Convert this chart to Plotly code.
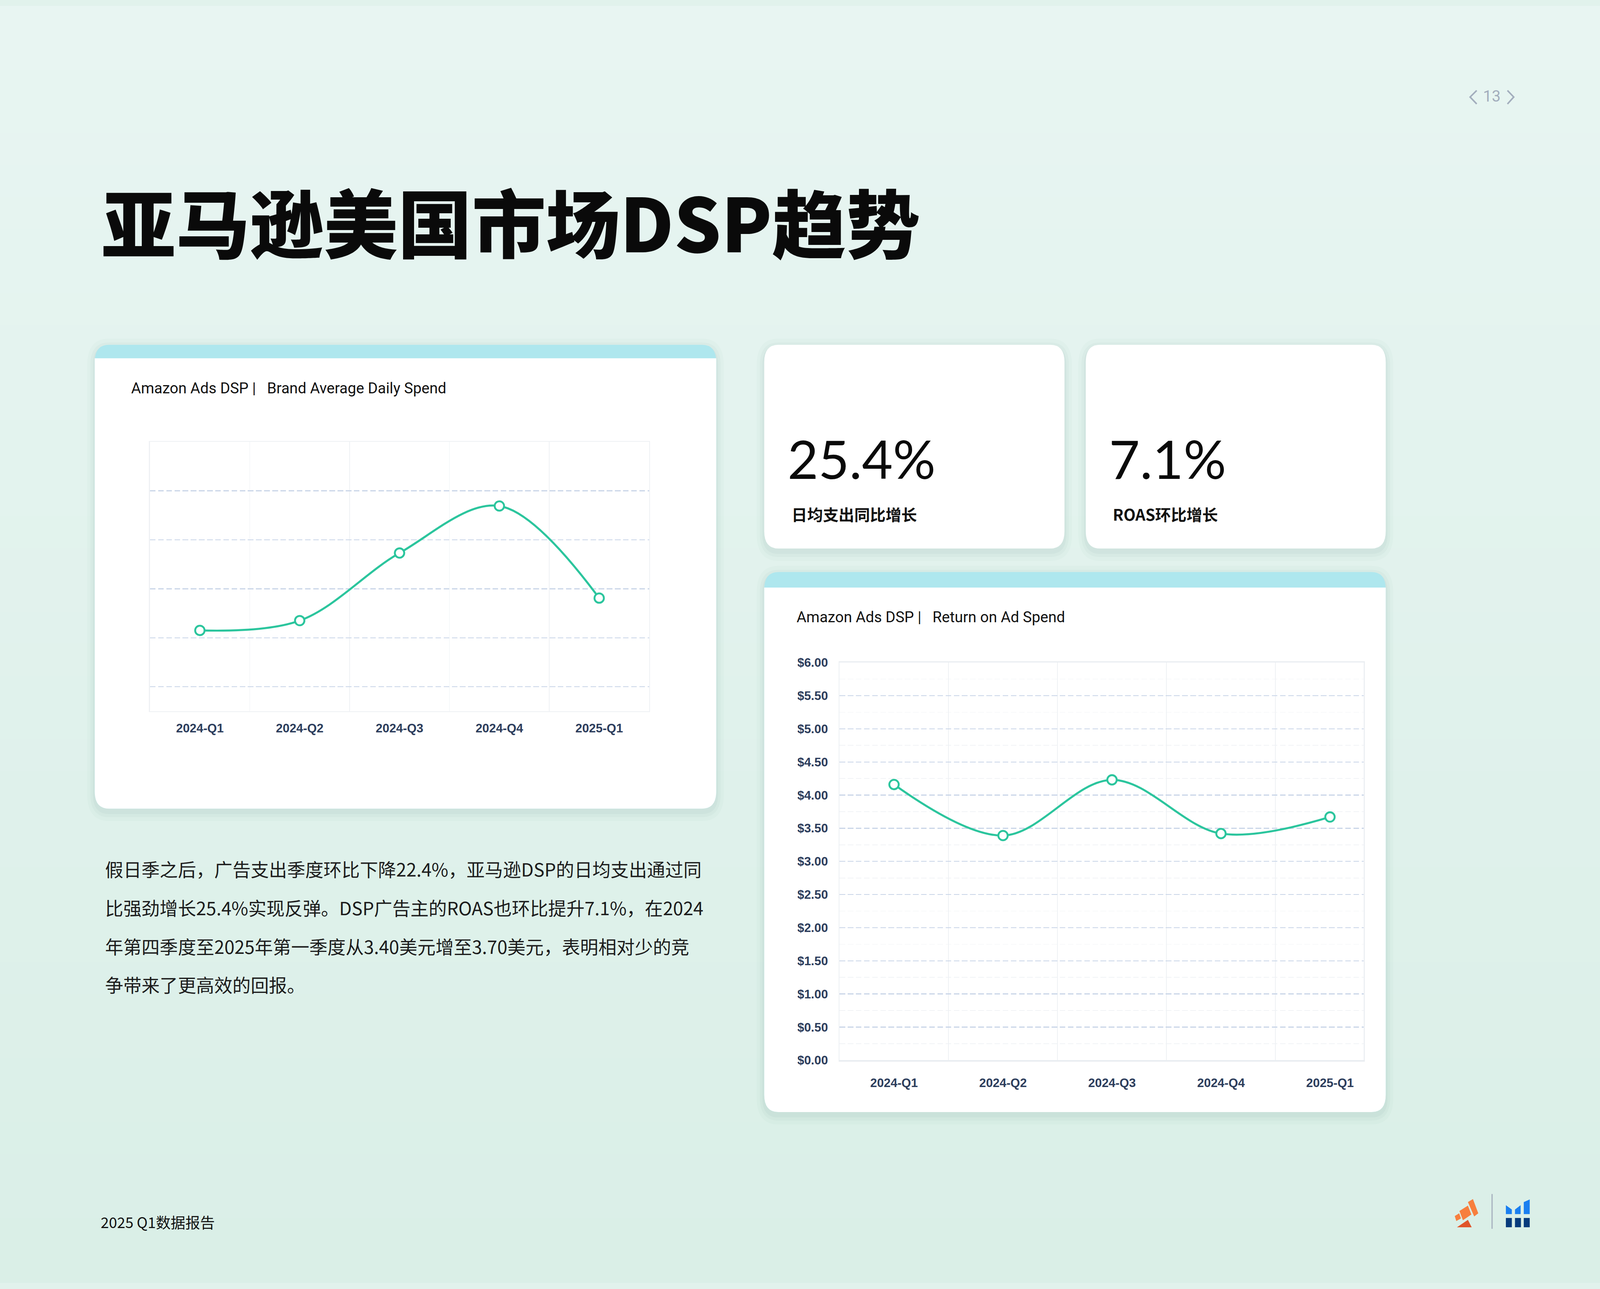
import plotly.graph_objects as go

W, H = 5100, 3300

# ---------------- data ----------------
quarters = ["2024-Q1", "2024-Q2", "2024-Q3", "2024-Q4", "2025-Q1"]
daily_spend_index = [2.15, 2.35, 3.73, 4.69, 2.81]      # unlabeled axis in the original
roas_values = [4.16, 3.39, 4.23, 3.42, 3.67]
roas_ticks = [0, 0.5, 1, 1.5, 2, 2.5, 3, 3.5, 4, 4.5, 5, 5.5, 6]
roas_tick_labels = ["$%.2f" % v for v in roas_ticks]
spend_grid = [1, 2, 3, 4, 5]

title_text = "亚马逊美国市场DSP趋势"
card1_title = "Amazon Ads DSP |\u00a0\u00a0 Brand Average Daily Spend"
card2_title = "Amazon Ads DSP |\u00a0\u00a0 Return on Ad Spend"
kpi_values = ["25.4%", "7.1%"]
kpi_labels = ["日均支出同比增长", "ROAS环比增长"]
paragraph_lines = [
    "假日季之后，广告支出季度环比下降22.4%，亚马逊DSP的日均支出通过同",
    "比强劲增长25.4%实现反弹。DSP广告主的ROAS也环比提升7.1%，在2024",
    "年第四季度至2025年第一季度从3.40美元增至3.70美元，表明相对少的竞",
    "争带来了更高效的回报。",
]
footer_text = "2025 Q1数据报告"
page_no = "13"

# ---------------- helpers ----------------
def fx(x):
    return x / W

def fy(y):
    return 1 - y / H

def pt(x, y):
    return f"{fx(x):.6f},{fy(y):.6f}"

def rrect_path(x0, y0, x1, y1, r, top=True, bottom=True):
    rt = r if top else 0
    rb = r if bottom else 0
    p = f"M {pt(x0 + rt, y0)} L {pt(x1 - rt, y0)} "
    if rt:
        p += f"Q {pt(x1, y0)} {pt(x1, y0 + rt)} "
    p += f"L {pt(x1, y1 - rb)} "
    if rb:
        p += f"Q {pt(x1, y1)} {pt(x1 - rb, y1)} "
    p += f"L {pt(x0 + rb, y1)} "
    if rb:
        p += f"Q {pt(x0, y1)} {pt(x0, y1 - rb)} "
    p += f"L {pt(x0, y0 + rt)} "
    if rt:
        p += f"Q {pt(x0, y0)} {pt(x0 + rt, y0)} "
    return p + "Z"

def poly_path(points):
    return "M " + " L ".join(pt(x, y) for x, y in points) + " Z"

shapes = []

def add_path(path, fill, line_color=None, line_width=0, opacity=1.0):
    shapes.append(dict(type="path", xref="paper", yref="paper", path=path,
                       fillcolor=fill, opacity=opacity, layer="below",
                       line=dict(color=line_color or fill, width=line_width)))

def lerp(c0, c1, t):
    return "#%02x%02x%02x" % tuple(round(a + (b - a) * t) for a, b in zip(c0, c1))

# ---------------- background gradient ----------------
top_c = (0xE8, 0xF5, 0xF2)
bot_c = (0xDA, 0xEF, 0xE7)
n_bands = 40
for i in range(n_bands):
    y0 = H * i / n_bands - 2
    y1 = H * (i + 1) / n_bands + 2
    shapes.append(dict(type="rect", xref="paper", yref="paper",
                       x0=-0.01, x1=1.01, y0=fy(y1), y1=fy(y0), layer="below",
                       fillcolor=lerp(top_c, bot_c, i / (n_bands - 1)),
                       line=dict(width=0)))

# ---------------- cards ----------------
CYAN = "#aee7ee"

def card(x0, y0, x1, y1, r=45, band=None):
    for k, a in ((24, 0.025), (14, 0.03), (6, 0.04)):
        add_path(rrect_path(x0 - k, y0 - k + 8, x1 + k, y1 + k + 8, r + k),
                 "rgba(40,110,90,%.3f)" % a)
    if band:
        add_path(rrect_path(x0, y0, x1, y1, r), CYAN)
        add_path(rrect_path(x0, band, x1, y1, r, top=False), "#ffffff")
    else:
        add_path(rrect_path(x0, y0, x1, y1, r), "#ffffff")

card(302, 875, 2283, 2075, band=910)
card(2436, 1463, 4417, 2860, band=1503)
card(2436, 875, 3393, 1402)
card(3461, 875, 4417, 1402)

# ---------------- page number chevrons ----------------
for pts in ([(4707, 217), (4686, 234), (4707, 252)], [(4805, 217), (4825, 234), (4805, 252)]):
    shapes.append(dict(type="path", xref="paper", yref="paper", layer="above",
                       path="M " + " L ".join(pt(x, y) for x, y in pts),
                       line=dict(color="#a3aebd", width=5)))

# ---------------- logos ----------------
add_path(poly_path([(4637, 3129), (4651, 3122), (4657, 3135), (4642, 3142)]), "#f77f3e")
add_path(poly_path([(4652, 3116), (4679, 3102), (4690, 3125), (4663, 3140)]), "#f77f3e")
add_path(poly_path([(4679, 3093), (4695, 3085), (4712, 3122), (4699, 3130)]), "#f77f3e")
add_path(poly_path([(4644, 3158), (4679, 3139), (4691, 3158)]), "#e0552a")
shapes.append(dict(type="line", xref="paper", yref="paper", layer="below",
                   x0=fx(4756), x1=fx(4756), y0=fy(3072), y1=fy(3162),
                   line=dict(color="#a9b5c1", width=4)))
add_path(poly_path([(4800, 3101), (4819, 3112), (4819, 3124), (4800, 3124)]), "#1a7ff0")
add_path(poly_path([(4829, 3112), (4847, 3101), (4847, 3124), (4829, 3124)]), "#1a7ff0")
add_path(poly_path([(4857, 3093), (4876, 3086), (4876, 3124), (4857, 3124)]), "#1a7ff0")
for x0 in (4800, 4829, 4857):
    add_path(poly_path([(x0, 3134), (x0 + 19, 3134), (x0 + 19, 3158), (x0, 3158)]), "#073b7c")

# ---------------- text ----------------
CJK = "Noto Sans CJK SC"
annotations = []

def text(x, y, s, size, color="#111111", family=CJK, weight="normal", xanchor="left"):
    annotations.append(dict(x=fx(x), y=fy(y), xref="paper", yref="paper", text=s,
                            showarrow=False, xanchor=xanchor, yanchor="middle",
                            font=dict(size=size, color=color, family=family, weight=weight)))

text(322, 552, title_text, 236, "#0a0a0a", weight=900)
text(4755, 232, page_no, 50, "#a3aebd", family="Roboto", xanchor="center")
text(416, 987, card1_title, 48, "#111111", family="Roboto")
text(2537, 1580, card2_title, 48, "#111111", family="Roboto")
text(2508, 1168, kpi_values[0], 170, "#0a0a0a", family="Lato")
text(3533, 1168, kpi_values[1], 170, "#0a0a0a", family="Lato")
text(2521, 1312, kpi_labels[0], 50, "#111111", weight="bold")
text(3545, 1312, kpi_labels[1], 50, "#111111", weight="bold")
for i, line in enumerate(paragraph_lines):
    text(333, 2230 + i * 100, line, 58, "#1c1c1c")
text(319, 3144, footer_text, 47, "#111111")

# ---------------- charts ----------------
GREEN = "#2bc59d"
TICK_FONT = dict(family="Liberation Sans", size=39, color="#2c3d5c", weight="bold")
GRID_DASH = "#c9d5e8"
FAINT = "#eef1f4"

fig = go.Figure()
fig.add_trace(go.Scatter(
    x=quarters, y=daily_spend_index, xaxis="x", yaxis="y",
    mode="lines+markers", line=dict(color=GREEN, width=6.5, shape="spline", smoothing=1.0),
    marker=dict(size=30, color="white", line=dict(color=GREEN, width=6)),
    hoverinfo="skip", showlegend=False))
fig.add_trace(go.Scatter(
    x=quarters, y=roas_values, xaxis="x2", yaxis="y2",
    mode="lines+markers", line=dict(color=GREEN, width=6.5, shape="spline", smoothing=1.0),
    marker=dict(size=30, color="white", line=dict(color=GREEN, width=6)),
    hoverinfo="skip", showlegend=False))

fig.update_layout(
    width=W, height=H, margin=dict(l=0, r=0, t=0, b=0),
    paper_bgcolor="#e1f2ec", plot_bgcolor="rgba(0,0,0,0)",
    shapes=shapes, annotations=annotations, showlegend=False,
    xaxis=dict(domain=[fx(478), fx(2069)], anchor="y", type="category",
               categoryorder="array", categoryarray=quarters,
               range=[-0.5, 4.5], tickson="boundaries", ticks="",
               showgrid=True, gridcolor=FAINT, gridwidth=2,
               showline=True, mirror=True, linecolor=FAINT, linewidth=3,
               tickfont=TICK_FONT, ticklabelstandoff=18, fixedrange=True),
    yaxis=dict(domain=[fy(1823), fy(1126)], anchor="x", range=[0.5, 6],
               tickmode="array", tickvals=spend_grid, showticklabels=False, ticks="",
               showgrid=True, gridcolor=GRID_DASH, gridwidth=3, griddash="18px,8px",
               zeroline=False, showline=True, mirror=True, linecolor=FAINT, linewidth=3,
               fixedrange=True),
    xaxis2=dict(domain=[fx(2676), fx(4347)], anchor="y2", type="category",
                categoryorder="array", categoryarray=quarters,
                range=[-0.5, 4.31], tickson="boundaries", ticks="",
                showgrid=True, gridcolor=FAINT, gridwidth=2,
                showline=True, mirror=True, linecolor="#e9edf1", linewidth=4,
                tickfont=TICK_FONT, ticklabelstandoff=34, fixedrange=True),
    yaxis2=dict(domain=[fy(2726), fy(1697)], anchor="x2", range=[0, 6],
                tickmode="array", tickvals=roas_ticks, ticktext=roas_tick_labels, ticks="",
                showgrid=True, gridcolor=GRID_DASH, gridwidth=3, griddash="18px,8px",
                minor=dict(tickmode="linear", tick0=0, dtick=0.25, showgrid=True,
                           gridcolor="#f1f3f6", gridwidth=2, ticks=""),
                zeroline=False, showline=True, mirror=True, linecolor="#eceff3", linewidth=3,
                tickfont=TICK_FONT, ticklabelstandoff=26, fixedrange=True),
)

# Fill the browser viewport: scale the 5100-wide slide to the viewport width and
# let the (paper-relative) layout take the viewport's full height.
fit_script = """
var W = %d;
var de = document.documentElement, bd = document.body;
de.style.margin = '0'; de.style.padding = '0'; de.style.overflow = 'hidden';
bd.style.margin = '0'; bd.style.padding = '0'; bd.style.overflow = 'hidden';
de.style.background = '#dbefe8'; bd.style.background = '#dbefe8';
var gd = document.getElementById('{plot_id}');
var vw = window.innerWidth, vh = window.innerHeight;
var s = vw / W;
var hf = vh / s;
var wrap = gd.parentElement;
wrap.style.position = 'absolute';
wrap.style.left = '0px';
wrap.style.top = '0px';
wrap.style.width = vw + 'px';
wrap.style.height = vh + 'px';
wrap.style.overflow = 'hidden';
gd.style.width = W + 'px';
gd.style.height = hf + 'px';
gd.style.transformOrigin = '0 0';
gd.style.transform = 'scale(' + s + ')';
Plotly.relayout(gd, {height: hf});
""" % (W,)

fig.write_html("out.html", config={"displayModeBar": False}, post_script=fit_script)
